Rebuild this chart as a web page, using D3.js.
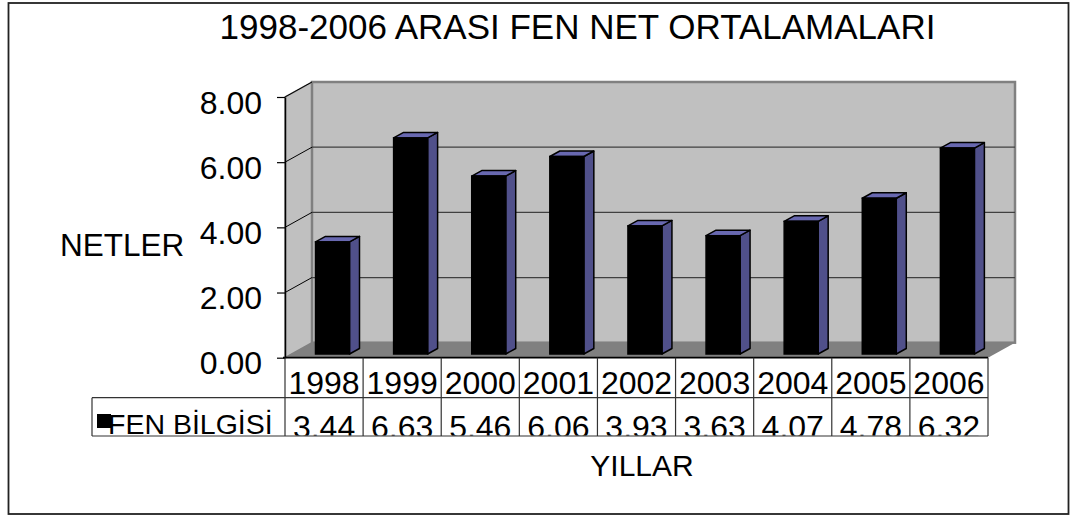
<!DOCTYPE html>
<html><head><meta charset="utf-8">
<script src="https://cdn.jsdelivr.net/npm/d3@7"></script>
<style>
html,body{margin:0;padding:0;background:#fff;}
svg{display:block;font-family:"Liberation Sans",Arial,sans-serif;}
</style></head>
<body>
<svg id="c" width="1071" height="516"></svg>
<script>
const title = "1998-2006 ARASI FEN NET ORTALAMALARI";
const years = ["1998","1999","2000","2001","2002","2003","2004","2005","2006"];
const values = [3.44, 6.63, 5.46, 6.06, 3.93, 3.63, 4.07, 4.78, 6.32];
const yTicks = [0, 2, 4, 6, 8];
const seriesName = "FEN BİLGİSİ";
const yTitle = "NETLER";
const xTitle = "YILLAR";

const svg = d3.select("#c");
const x0 = 285, x1 = 988, yBase = 357.7, yTop = 97;
const depthX = 27, depthY = -15;
const y = d3.scaleLinear().domain([0, 8]).range([yBase, yTop]);
const x = d3.scaleBand().domain(years).range([x0, x1]).padding(0);

// outer border
svg.append("rect").attr("x", 8.5).attr("y", 3).attr("width", 1060).attr("height", 511)
  .attr("fill", "#fff").attr("stroke", "#222").attr("stroke-width", 1.8);

// title
svg.append("text").attr("x", 577.5).attr("y", 38.5).attr("text-anchor", "middle")
  .attr("font-size", 35).text(title);

// walls
const bx0 = x0 + depthX, bx1 = x1 + depthX, byBase = yBase + depthY, byTop = yTop + depthY;
svg.append("polygon")
  .attr("points", [[x0, yBase], [x0, yTop], [bx0, byTop], [bx0, byBase]].map(p => p.join(",")).join(" "))
  .attr("fill", "#c0c0c0").attr("stroke", "#808080").attr("stroke-width", 1.5);
svg.append("rect").attr("x", bx0).attr("y", byTop).attr("width", bx1 - bx0).attr("height", byBase - byTop)
  .attr("fill", "#c0c0c0").attr("stroke", "#808080").attr("stroke-width", 2.5);
svg.append("polygon")
  .attr("points", [[x0, yBase], [x1, yBase], [bx1, byBase], [bx0, byBase]].map(p => p.join(",")).join(" "))
  .attr("fill", "#808080");

// gridlines on back wall and side wall
const grid = yTicks.filter(v => v > 0 && v < 8);
svg.append("g").selectAll("line").data(grid).join("line")
  .attr("x1", bx0).attr("x2", bx1)
  .attr("y1", d => y(d) + depthY).attr("y2", d => y(d) + depthY)
  .attr("stroke", "#404040").attr("stroke-width", 1.2);
svg.append("g").selectAll("line").data(yTicks.filter(v => v > 0)).join("line")
  .attr("x1", x0).attr("x2", bx0)
  .attr("y1", d => y(d)).attr("y2", d => y(d) + depthY)
  .attr("stroke", "#000").attr("stroke-width", 1);

// bars
const bOffX = 30.5, bOffY = -3.7, bW = 34, bdx = 10, bdy = -5.5;
const bars = svg.append("g").selectAll("g").data(values).join("g");
bars.each(function(v, i) {
  const g = d3.select(this);
  const L = x(years[i]) + bOffX, R = L + bW;
  const T = y(v) + bOffY, B = y(0) + bOffY;
  const pts = a => a.map(p => p.join(",")).join(" ");
  g.append("polygon").attr("points", pts([[R, B], [R, T], [R + bdx, T + bdy], [R + bdx, B + bdy]]))
    .attr("fill", "#50508a").attr("stroke", "#000").attr("stroke-width", 1.5).attr("stroke-linejoin", "round");
  g.append("polygon").attr("points", pts([[L, T], [R, T], [R + bdx, T + bdy], [L + bdx, T + bdy]]))
    .attr("fill", "#6868b0").attr("stroke", "#000").attr("stroke-width", 1.5).attr("stroke-linejoin", "round");
  g.append("rect").attr("x", L).attr("y", T).attr("width", bW).attr("height", B - T)
    .attr("fill", "#000").attr("stroke", "#000").attr("stroke-width", 1.5);
});

// value axis
const yAxis = d3.axisLeft(y).tickValues(yTicks).tickFormat(d3.format(".2f"))
  .tickSize(8).tickSizeOuter(0).tickPadding(15);
const ag = svg.append("g").attr("transform", `translate(${x0},0)`).call(yAxis);
ag.select(".domain").attr("stroke", "#000").attr("stroke-width", 1.5);
ag.selectAll(".tick line").attr("stroke", "#000").attr("stroke-width", 1.2);
ag.selectAll(".tick text").attr("font-size", 32).attr("dy", "0.5em").attr("fill", "#000")
  .attr("font-family", "'Liberation Sans',Arial,sans-serif");

// category axis line
svg.append("line").attr("x1", x0 - 2).attr("x2", x1).attr("y1", yBase).attr("y2", yBase)
  .attr("stroke", "#000").attr("stroke-width", 1.8);

// data table
const r1 = 397.7, r2 = 436, legL = 92;
const tg = svg.append("g");
tg.selectAll("line.v").data(d3.range(years.length + 1)).join("line").attr("class", "v")
  .attr("x1", i => x0 + i * x.bandwidth()).attr("x2", i => x0 + i * x.bandwidth())
  .attr("y1", yBase).attr("y2", r2).attr("stroke", "#333").attr("stroke-width", 1.2);
tg.append("line").attr("x1", legL).attr("x2", x1).attr("y1", r1).attr("y2", r1).attr("stroke", "#333").attr("stroke-width", 1.2);
tg.append("line").attr("x1", legL).attr("x2", x1).attr("y1", r2).attr("y2", r2).attr("stroke", "#333").attr("stroke-width", 1.2);
tg.append("line").attr("x1", legL).attr("x2", legL).attr("y1", r1).attr("y2", r2).attr("stroke", "#333").attr("stroke-width", 1.2);

tg.selectAll("text.yr").data(years).join("text").attr("class", "yr")
  .attr("x", d => x(d) + x.bandwidth() / 2).attr("y", 393.5).attr("text-anchor", "middle")
  .attr("font-size", 32).text(d => d);

svg.append("defs").append("clipPath").attr("id", "row2").append("rect")
  .attr("x", x0).attr("y", r1).attr("width", x1 - x0).attr("height", r2 - r1 - 0.5);
tg.append("g").attr("clip-path", "url(#row2)").selectAll("text").data(values).join("text")
  .attr("x", (d, i) => x(years[i]) + x.bandwidth() / 2).attr("y", 437.5).attr("text-anchor", "middle")
  .attr("font-size", 32).text(d => d3.format(".2f")(d).replace(".", ","));

// legend key + name
tg.append("rect").attr("x", 97).attr("y", 414).attr("width", 14).attr("height", 14).attr("fill", "#000");
tg.append("text").attr("x", 108).attr("y", 433.5).attr("font-size", 28.5).text(seriesName);

// axis titles
svg.append("text").attr("x", 60).attr("y", 256).attr("font-size", 31.5).text(yTitle);
svg.append("text").attr("x", 642).attr("y", 476).attr("text-anchor", "middle").attr("font-size", 30).text(xTitle);
</script>
</body></html>
